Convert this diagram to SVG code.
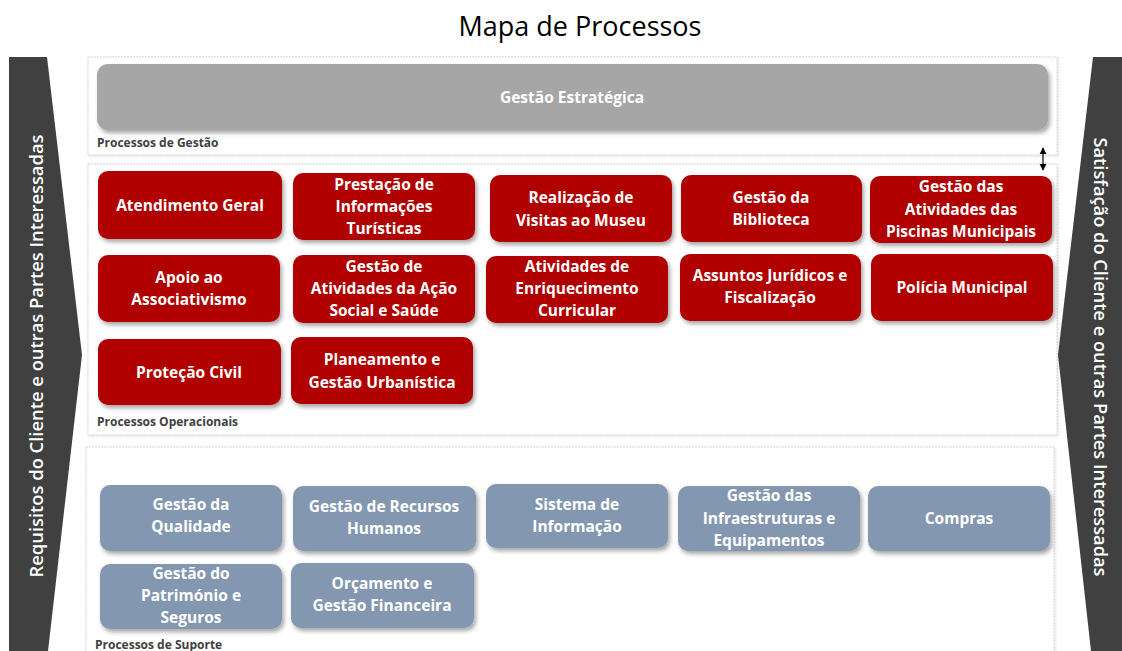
<svg xmlns="http://www.w3.org/2000/svg" width="1122" height="651" viewBox="0 0 1122 651">
<defs>
<filter id="sh" x="-10%" y="-20%" width="120%" height="150%">
<feDropShadow dx="2" dy="3" stdDeviation="2" flood-color="#000" flood-opacity="0.35"/>
</filter>
<filter id="psh" x="-5%" y="-5%" width="110%" height="110%">
<feDropShadow dx="1" dy="1" stdDeviation="1.5" flood-color="#000" flood-opacity="0.12"/>
</filter>
<marker id="ah" viewBox="0 0 10 10" refX="9" refY="5" markerWidth="6" markerHeight="6" orient="auto-start-reverse">
<path d="M0,0 L10,5 L0,10 Z" fill="#000"/>
</marker>
</defs>
<style>
text{font-family:"Open Sans","Liberation Sans",sans-serif}
.t{fill:#fff;font-weight:700;font-size:15.5px;text-anchor:middle}
.red{fill:#B00000;filter:url(#sh)}
.blue{fill:#8497B0;filter:url(#sh)}
.grey{fill:#A6A6A6;filter:url(#sh)}
.panel{fill:#fff;stroke:#D6D6D6;stroke-width:1;stroke-dasharray:2 1;filter:url(#psh)}
.lab{fill:#404040;font-weight:700;font-size:12px}
.ban{fill:#fff;font-size:18px;font-weight:600;text-anchor:middle}
</style>
<rect width="1122" height="651" fill="#fff"/>
<text x="580" y="36" font-size="27" text-anchor="middle" fill="#000">Mapa de Processos</text>

<g id="banner-left">
<polygon points="9,57 47,57 82,355 48,651 9,651" fill="#404040"/>
<text class="ban" transform="translate(43,356) rotate(-90)" textLength="443" lengthAdjust="spacingAndGlyphs">Requisitos do Cliente e outras Partes Interessadas</text>
</g>
<g id="banner-right">
<polygon points="1093,57 1122,57 1122,651 1091,651 1058,355" fill="#404040"/>
<text class="ban" transform="translate(1094,357) rotate(90)" textLength="439" lengthAdjust="spacingAndGlyphs">Satisfação do Cliente e outras Partes Interessadas</text>
</g>

<g id="panel-gestao">
<rect class="panel" x="88" y="57" width="969" height="98"/>
<text class="lab" x="97" y="147">Processos de Gestão</text>
</g>
<g id="panel-operacionais">
<rect class="panel" x="88" y="164" width="969" height="271"/>
<text class="lab" x="97" y="426">Processos Operacionais</text>
</g>
<g id="panel-suporte">
<rect class="panel" x="86" y="447" width="968" height="210"/>
<text class="lab" x="95" y="649">Processos de Suporte</text>
</g>

<g id="connectors">
<line x1="1043" y1="148" x2="1043" y2="170" stroke="#000" stroke-width="1.2" marker-start="url(#ah)" marker-end="url(#ah)"/>
</g>

<g id="n-gestao-estrategica">
<rect class="grey" x="97" y="64" width="951" height="66" rx="11"/>
<text class="t" x="572" y="103">Gestão Estratégica</text>
</g>

<g id="n-atendimento"><rect class="red" x="98" y="171" width="184" height="68" rx="10"/><text class="t" x="190" y="211">Atendimento Geral</text></g>
<g id="n-prestacao"><rect class="red" x="293" y="173" width="182" height="67" rx="10"/><text class="t" x="384" y="190">Prestação de</text><text class="t" x="384" y="212">Informações</text><text class="t" x="384" y="234">Turísticas</text></g>
<g id="n-museu"><rect class="red" x="490" y="175" width="182" height="67" rx="10"/><text class="t" x="581" y="203">Realização de</text><text class="t" x="581" y="226">Visitas ao Museu</text></g>
<g id="n-biblioteca"><rect class="red" x="681" y="175" width="181" height="67" rx="10"/><text class="t" x="771" y="203">Gestão da</text><text class="t" x="771" y="225">Biblioteca</text></g>
<g id="n-piscinas"><rect class="red" x="870" y="176" width="182" height="67" rx="10"/><text class="t" x="961" y="192">Gestão das</text><text class="t" x="961" y="215">Atividades das</text><text class="t" x="961" y="237">Piscinas Municipais</text></g>

<g id="n-apoio"><rect class="red" x="98" y="255" width="182" height="67" rx="10"/><text class="t" x="189" y="283">Apoio ao</text><text class="t" x="189" y="305">Associativismo</text></g>
<g id="n-acao-social"><rect class="red" x="293" y="255" width="182" height="68" rx="10"/><text class="t" x="384" y="272">Gestão de</text><text class="t" x="384" y="294">Atividades da Ação</text><text class="t" x="384" y="316">Social e Saúde</text></g>
<g id="n-aec"><rect class="red" x="486" y="256" width="182" height="67" rx="10"/><text class="t" x="577" y="272">Atividades de</text><text class="t" x="577" y="294">Enriquecimento</text><text class="t" x="577" y="316">Curricular</text></g>
<g id="n-juridicos"><rect class="red" x="680" y="254" width="181" height="67" rx="10"/><text class="t" x="770" y="281">Assuntos Jurídicos e</text><text class="t" x="770" y="303">Fiscalização</text></g>
<g id="n-policia"><rect class="red" x="871" y="254" width="182" height="67" rx="10"/><text class="t" x="962" y="293">Polícia Municipal</text></g>

<g id="n-protecao"><rect class="red" x="98" y="339" width="183" height="66" rx="10"/><text class="t" x="189" y="378">Proteção Civil</text></g>
<g id="n-planeamento"><rect class="red" x="291" y="337" width="182" height="67" rx="10"/><text class="t" x="382" y="365">Planeamento e</text><text class="t" x="382" y="388">Gestão Urbanística</text></g>

<g id="n-qualidade"><rect class="blue" x="100" y="485" width="182" height="66" rx="10"/><text class="t" x="191" y="510">Gestão da</text><text class="t" x="191" y="532">Qualidade</text></g>
<g id="n-rh"><rect class="blue" x="293" y="486" width="183" height="65" rx="10"/><text class="t" x="384" y="512">Gestão de Recursos</text><text class="t" x="384" y="534">Humanos</text></g>
<g id="n-si"><rect class="blue" x="486" y="484" width="182" height="64" rx="10"/><text class="t" x="577" y="510">Sistema de</text><text class="t" x="577" y="532">Informação</text></g>
<g id="n-infra"><rect class="blue" x="678" y="486" width="182" height="65" rx="10"/><text class="t" x="769" y="501">Gestão das</text><text class="t" x="769" y="524">Infraestruturas e</text><text class="t" x="769" y="546">Equipamentos</text></g>
<g id="n-compras"><rect class="blue" x="868" y="486" width="182" height="65" rx="10"/><text class="t" x="959" y="524">Compras</text></g>
<g id="n-patrimonio"><rect class="blue" x="100" y="564" width="182" height="65" rx="10"/><text class="t" x="191" y="579">Gestão do</text><text class="t" x="191" y="601">Património e</text><text class="t" x="191" y="623">Seguros</text></g>
<g id="n-orcamento"><rect class="blue" x="291" y="563" width="183" height="65" rx="10"/><text class="t" x="382" y="589">Orçamento e</text><text class="t" x="382" y="611">Gestão Financeira</text></g>
</svg>
